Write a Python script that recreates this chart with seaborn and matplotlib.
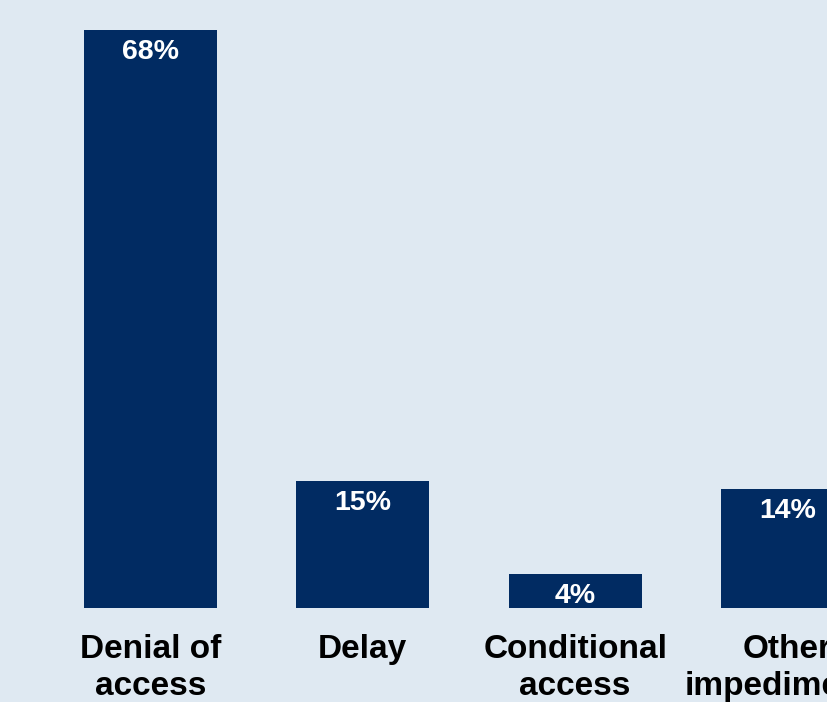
import matplotlib
matplotlib.use("Agg")
import matplotlib.pyplot as plt
import seaborn as sns

categories = ["Denial of\naccess", "Delay", "Conditional\naccess", "Other\nimpediments"]
values = [68, 15, 4, 14]
value_labels = ["68%", "15%", "4%", "14%"]

BG = "#dfe9f2"
BAR = "#012b62"

sns.set_theme(style="white")
plt.rcParams["font.family"] = ["Liberation Sans", "DejaVu Sans"]

fig = plt.figure(figsize=(8.28, 7.02), dpi=100, facecolor=BG)
ax = fig.add_axes([0, 94 / 702, 1, 608 / 702])
ax.set_facecolor(BG)

sns.barplot(x=categories, y=values, color=BAR, saturation=1, width=0.627,
            linewidth=0, edgecolor=BAR, ax=ax)

ax.set_xlim(-0.709, 3.191)
ax.set_ylim(0, 608 / 8.5)

for i, (v, lab) in enumerate(zip(values, value_labels)):
    ax.annotate(lab, xy=(i, v), xytext=(0, -6.5), textcoords="offset points",
                ha="center", va="top", color="white", fontsize=20.5, fontweight="bold")

ax.tick_params(axis="x", length=0, pad=19, labelsize=24)
for t in ax.get_xticklabels():
    t.set_fontweight("bold")
    t.set_color("black")
    t.set_linespacing(1.22)
ax.set_yticks([])
ax.set_xlabel("")
ax.set_ylabel("")
for s in ax.spines.values():
    s.set_visible(False)

fig.savefig("out.png", dpi=100, facecolor=BG)
